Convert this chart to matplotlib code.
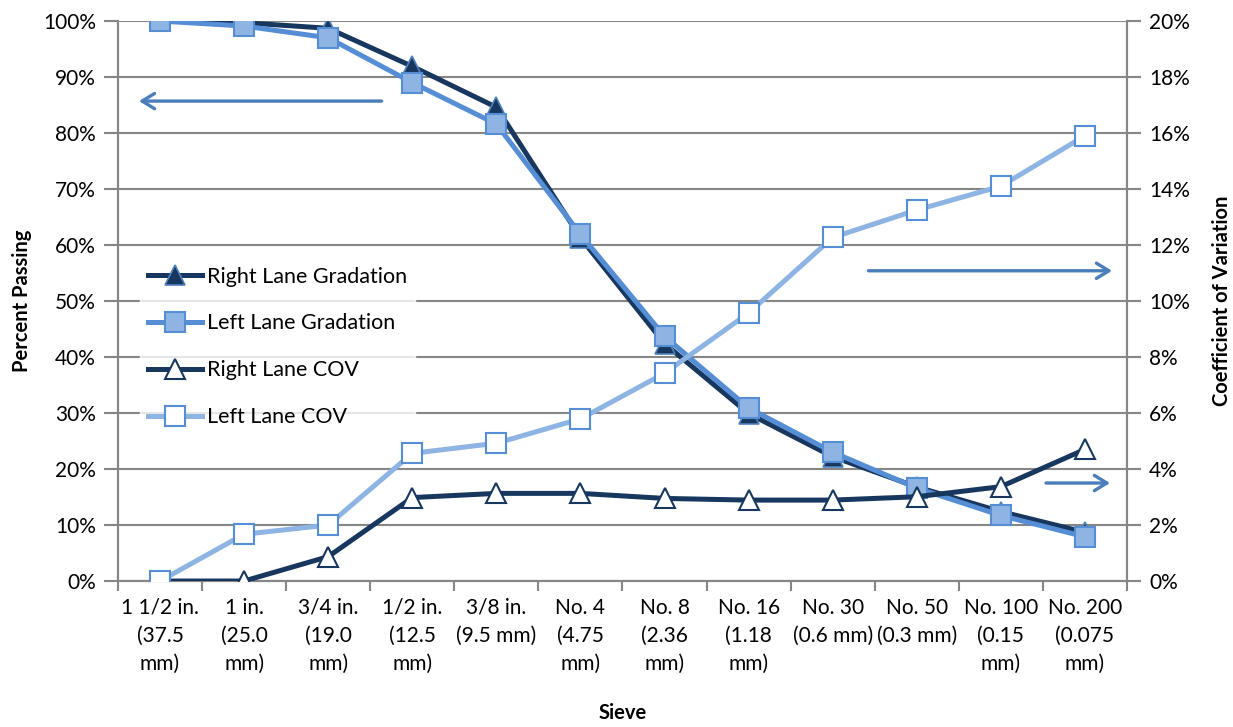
import matplotlib
matplotlib.use("Agg")
import matplotlib.pyplot as plt
from matplotlib.ticker import PercentFormatter, FixedLocator, NullFormatter

plt.rcParams['font.family'] = ['Lato', 'DejaVu Sans']

# Sieve sizes
sieves = ["1 1/2 in.\n(37.5\nmm)", "1 in.\n(25.0\nmm)", "3/4 in.\n(19.0\nmm)",
          "1/2 in.\n(12.5\nmm)", "3/8 in.\n(9.5 mm)", "No. 4\n(4.75\nmm)",
          "No. 8\n(2.36\nmm)", "No. 16\n(1.18\nmm)", "No. 30\n(0.6 mm)",
          "No. 50\n(0.3 mm)", "No. 100\n(0.15\nmm)", "No. 200\n(0.075\nmm)"]

# Percent passing (primary axis)
right_gradation = [100.0, 99.7, 98.7, 91.9, 84.6, 61.3, 42.4, 29.9, 22.2, 16.8, 12.4, 8.7]
left_gradation = [100.0, 99.1, 97.0, 89.0, 81.6, 61.9, 43.7, 30.9, 23.0, 16.6, 11.7, 7.9]

# Coefficient of variation (secondary axis)
right_cov = [0.0, 0.0, 0.87, 2.98, 3.13, 3.13, 2.95, 2.89, 2.89, 3.01, 3.37, 4.70]
left_cov = [0.0, 1.67, 2.0, 4.56, 4.92, 5.79, 7.42, 9.57, 12.27, 13.25, 14.1, 15.9]

NAVY = "#17375E"
MID = "#558ED5"
LIGHT = "#8EB4E3"
EDGE = "#4F81BD"
GRID = "#868686"
ARROW = "#4A7EBB"

TICK_FS = 15
fig = plt.figure(figsize=(12.33, 7.27), dpi=100)
ax = fig.add_axes([0.0957, 0.2008, 0.8183, 0.7703])
ax2 = ax.twinx()

x = list(range(len(sieves)))

l1, = ax.plot(x, right_gradation, color=NAVY, lw=3.6, marker="^", ms=14,
              mfc=NAVY, mec=EDGE, mew=1.2, label="Right Lane Gradation", zorder=3)
l2, = ax.plot(x, left_gradation, color=MID, lw=3.6, marker="s", ms=14,
              mfc=LIGHT, mec=MID, mew=1.5, label="Left Lane Gradation", zorder=4)
l3, = ax2.plot(x, right_cov, color=NAVY, lw=3.6, marker="^", ms=14,
               mfc="white", mec=NAVY, mew=1.5, label="Right Lane COV", zorder=3)
l4, = ax2.plot(x, left_cov, color=LIGHT, lw=3.6, marker="s", ms=14,
               mfc="white", mec=MID, mew=1.5, label="Left Lane COV", zorder=4)

ax.set_xlim(-0.5, len(sieves) - 0.5)
ax.set_ylim(0, 100)
ax2.set_ylim(0, 20)

ax.set_yticks(range(0, 101, 10))
ax2.set_yticks(range(0, 21, 2))
ax.yaxis.set_major_formatter(PercentFormatter(decimals=0))
ax2.yaxis.set_major_formatter(PercentFormatter(decimals=0))

ax.set_xticks(x)
ax.set_xticklabels(sieves, fontsize=TICK_FS, linespacing=1.52, va="top")
ax.xaxis.set_minor_locator(FixedLocator([i - 0.5 for i in range(len(sieves) + 1)]))
ax.xaxis.set_minor_formatter(NullFormatter())
ax.tick_params(axis="x", which="major", length=0, pad=12)
ax.tick_params(axis="x", which="minor", length=7, width=1.5, color=GRID, direction="out")
ax.tick_params(axis="y", length=10, width=1.5, color=GRID, labelsize=TICK_FS, pad=6)
ax2.tick_params(axis="y", length=10, width=1.5, color=GRID, labelsize=TICK_FS, pad=6)

ax.grid(axis="y", color=GRID, lw=1.5)
ax.set_axisbelow(True)
for a in (ax, ax2):
    a.spines["top"].set_visible(False)
    for s in ("left", "right", "bottom"):
        a.spines[s].set_color(GRID)
        a.spines[s].set_linewidth(1.5)

ax.set_ylabel("Percent Passing", fontsize=14.5, fontweight="bold", labelpad=8)
ax2.set_ylabel("Coefficient of Variation", fontsize=14.5, fontweight="bold", labelpad=16)
ax.set_xlabel("Sieve", fontsize=14.5, fontweight="bold", labelpad=21)

# Arrows pointing to the axis each group of series is read against
arrow_kw = dict(arrowstyle="->,head_length=0.9,head_width=0.55", color=ARROW, lw=2.4)
for start, end in [((0.264, 0.857), (0.018, 0.857)),
                   ((0.741, 0.554), (0.988, 0.554)),
                   ((0.917, 0.175), (0.986, 0.175))]:
    ax2.annotate("", xy=end, xytext=start, xycoords="axes fraction",
                 textcoords="axes fraction", arrowprops=arrow_kw)

leg = ax2.legend(handles=[l1, l2, l3, l4], loc="upper left",
                 bbox_to_anchor=(0.022, 0.575), borderaxespad=0, fontsize=15.5,
                 frameon=True, handlelength=2.5, handletextpad=0.25,
                 labelspacing=1.25, borderpad=0.35, fancybox=False)
leg.get_frame().set_facecolor("white")
leg.get_frame().set_edgecolor("white")
leg.set_zorder(10)

fig.savefig("out.png", dpi=100)
